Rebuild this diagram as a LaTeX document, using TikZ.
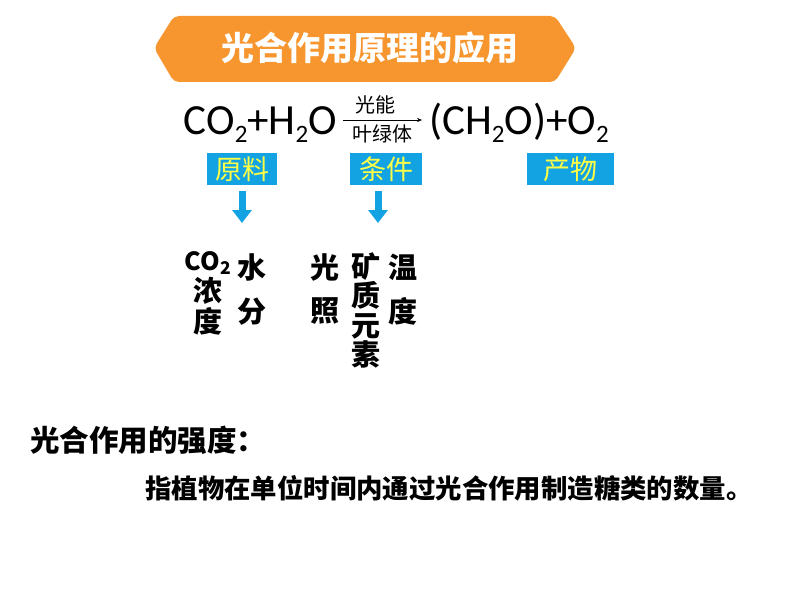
\documentclass[tikz,border=0pt]{standalone}
\usepackage{fontspec}
\newfontfamily\cjk{Noto Sans CJK SC}
\newfontfamily\latin{Carlito}
\usepackage{tikz}
\usetikzlibrary{arrows.meta,positioning}

\definecolor{bannerorange}{RGB}{247,150,47}
\definecolor{boxblue}{RGB}{20,163,226}
\definecolor{labelyellow}{RGB}{255,255,70}
\newcommand\chemsub[1]{\raisebox{-8pt}{\fontsize{25}{25}\selectfont #1}}

\begin{document}
\begin{tikzpicture}[x=1pt,y=-1pt,
  eqpart/.style={font=\latin\fontsize{43}{43}\selectfont, inner sep=0pt, text height=36pt, text depth=6pt},
  keybox/.style={fill=boxblue, text=labelyellow, font=\cjk\fontsize{27}{27}\selectfont, minimum height=32pt, inner sep=0pt},
  downarrow/.style={draw=boxblue, line width=7pt, -{Triangle[width=19pt,length=13pt]}},
  factor/.style={font=\cjk\bfseries\fontsize{29}{31}\selectfont, align=center, inner sep=0pt, anchor=north}]

\useasboundingbox (0,0) rectangle (794,596);

\fill[bannerorange, rounded corners=5pt] (154,48) -- (174,16) -- (555,16) -- (576,48) -- (555,82) -- (174,82) -- cycle;
\node[font=\cjk\bfseries\fontsize{33}{33}\selectfont, text=white] (title) at (369.5,48) {光合作用原理的应用};

\node[eqpart, anchor=base east] (reactants) at (337,135) {CO\chemsub{2}+H\chemsub{2}O};
\node[eqpart, anchor=base west] (products) at (429,135) {(CH\chemsub{2}O)+O\chemsub{2}};
\draw[-{Stealth[length=5pt,width=4pt]}, line width=0.6pt] ([xshift=6pt]reactants.east) -- ([xshift=-7pt]products.west)
  node[midway, above=2pt, xshift=-7pt, font=\cjk\fontsize{20}{20}\selectfont] (light) {光能}
  node[midway, below=1pt, font=\cjk\fontsize{20}{20}\selectfont] (chloro) {叶绿体};

\node[keybox, minimum width=70pt] (yuanliao) at (242,169) {原料};
\node[keybox, minimum width=72pt] (tiaojian) at (386,169) {条件};
\node[keybox, minimum width=87pt] (chanwu) at (570.5,169) {产物};

\coordinate (yuanliao-tip) at (242,223);
\coordinate (tiaojian-tip) at (378,223);
\draw[downarrow] (yuanliao-tip |- yuanliao.south) ++(0,6) -- (yuanliao-tip);
\draw[downarrow] (tiaojian-tip |- tiaojian.south) ++(0,6) -- (tiaojian-tip);

\node[factor] (co2) at (208,251) {{\fontsize{25}{25}\selectfont CO\textsubscript{2}}\\浓\\度};
\node[factor] (water) at (252,254) {水\\[13pt]分};
\node[factor] (light-in) at (325,254) {光\\[12pt]照};
\node[factor, font=\cjk\bfseries\fontsize{29}{29.5}\selectfont] (mineral) at (366,252) {矿\\质\\元\\素};
\node[factor] (temp) at (403,254) {温\\[13pt]度};

\node[anchor=west, font=\cjk\bfseries\fontsize{29.5}{29.5}\selectfont, inner sep=0pt] (strength) at (30,440) {光合作用的强度：};
\node[anchor=west, font=\cjk\bfseries\fontsize{26.4}{26.4}\selectfont, inner sep=0pt] (definition) at (145,488) {指植物在单位时间内通过光合作用制造糖类的数量。};

\end{tikzpicture}
\end{document}
